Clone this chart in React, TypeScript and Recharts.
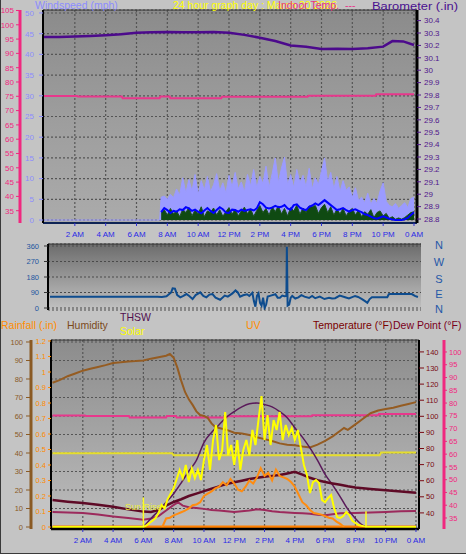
import React from "react";
import {
  ComposedChart,
  Line,
  Area,
  XAxis,
  YAxis,
  CartesianGrid,
  ReferenceLine,
  ReferenceDot,
} from "recharts";

const FONT = "'Liberation Sans', Arial, sans-serif";

// ---------- ticks & labels ----------
const hourTicks = [2, 4, 6, 8, 10, 12, 14, 16, 18, 20, 22, 24];
const hourLabels = ["2 AM", "4 AM", "6 AM", "8 AM", "10 AM", "12 PM", "2 PM", "4 PM", "6 PM", "8 PM", "10 PM", "0 AM"];
const windTicks = [0, 5, 10, 15, 20, 25, 30, 35, 40, 45, 50];
const indoorTicksTop = [35, 40, 45, 50, 55, 60, 65, 70, 75, 80, 85, 90, 95, 100, 105];
const baroTicks = [28.8, 28.9, 29, 29.1, 29.2, 29.3, 29.4, 29.5, 29.6, 29.7, 29.8, 29.9, 30, 30.1, 30.2, 30.3, 30.4];
const dirTicks = [0, 90, 180, 270, 360];
const dirLetters = ["N", "W", "S", "E", "N"];
const humTicks = [0, 10, 20, 30, 40, 50, 60, 70, 80, 90, 100];
const rainTicks = [0, 0.1, 0.2, 0.3, 0.4, 0.5, 0.6, 0.7, 0.8, 0.9, 1, 1.1, 1.2];
const tempTicks = [40, 50, 60, 70, 80, 90, 100, 110, 120, 130, 140];
const dewTicks = [35, 40, 45, 50, 55, 60, 65, 70, 75, 80, 85, 90, 95, 100];

// ---------- top panel: wind (mph), sampled every 0.2 h from 7.6 h ----------
const windStart = 7.6;
const windStep = 0.2;
const windGust = [
  5.5, 5.8, 5.0, 6.2, 5.4, 7.5, 6.0, 10.2, 6.5, 9.8, 7.0, 11.0,
  6.2, 9.5, 7.2, 10.5, 6.8, 8.5, 11.2, 7.0, 9.0, 6.5,
  10.8, 8.0, 11.5, 7.5, 9.2, 6.8, 11.0, 8.2, 12.2, 7.8,
  10.5, 8.8, 13.0, 7.8, 11.2, 15.0, 9.0, 12.5, 15.2, 8.5,
  11.0, 7.8, 12.2, 9.0, 10.8, 8.0, 12.5, 7.5, 10.2, 8.5,
  11.8, 15.0, 9.2, 11.5, 7.5, 10.5, 6.8, 9.5, 7.2, 8.0,
  5.5, 7.8, 4.8, 5.5, 4.2, 6.5, 3.8, 5.2, 4.0, 7.0,
  9.0, 4.5, 3.5, 3.2, 4.0, 2.8, 3.5, 4.2, 3.0, 5.2,
  5.5,
];
const windSpeed = [
  2.0, 2.5, 1.2, 2.8, 1.5, 2.2, 0.8, 2.6, 1.8, 3.0, 1.0, 2.4,
  1.5, 3.2, 0.8, 2.2, 1.8, 2.9, 1.2, 2.5, 0.9, 2.0,
  3.0, 1.4, 2.6, 1.0, 2.2, 3.1, 1.5, 2.7, 0.9, 2.3,
  3.5, 1.8, 2.8, 1.2, 3.2, 2.0, 3.4, 1.5, 2.8, 1.0,
  3.0, 2.2, 3.6, 1.4, 2.9, 1.8, 3.4, 3.2, 3.5, 1.6,
  3.0, 3.8, 1.8, 3.2, 1.2, 2.6, 1.5, 2.8, 1.0, 2.2,
  2.8, 1.2, 2.4, 0.8, 2.0, 1.4, 2.5, 0.6, 1.8, 2.2,
  1.0, 1.6, 0.4, 0.8, 0.2, 0.5, 0.2, 0.6, 1.2, 1.8,
  2.0,
];
const windAvg = [
  1.9, 2.9, 2.4, 1.7, 2.2, 2.0, 2.6, 2.4, 3.1, 2.8, 2.2, 2.5,
  2.0, 1.6, 2.3, 2.9, 2.2, 1.7, 2.4, 3.1, 2.6, 1.8,
  1.7, 2.5, 2.4, 2.0, 2.5, 2.2, 2.4, 2.6, 2.3, 2.8,
  4.3, 3.8, 3.0, 2.8, 3.0, 3.4, 3.1, 3.2, 3.6, 2.8,
  2.5, 3.6, 3.8, 3.0, 2.6, 2.4, 3.2, 3.5, 4.0, 3.6,
  4.2, 4.8, 4.2, 3.6, 3.0, 2.4, 2.6, 2.9, 2.4, 2.0,
  2.4, 2.6, 2.2, 1.9, 1.4, 1.2, 0.8, 0.5, 0.3, 0.6,
  0.9, 0.6, 0.3, 0.1, 0.0, 0.0, 0.0, 0.2, 0.5, 1.2,
  1.9,
];

// barometer (in)
const baroHours = [0, 1, 2, 3, 4, 5, 6, 7, 8, 9, 10, 11, 12, 13, 14, 15, 16, 17, 18, 19, 20, 21, 22, 22.6, 23.3, 24];
const baroValues = [30.268, 30.268, 30.272, 30.276, 30.282, 30.29, 30.302, 30.306, 30.308, 30.306, 30.306, 30.308, 30.302, 30.285, 30.262, 30.235, 30.2, 30.19, 30.172, 30.174, 30.172, 30.178, 30.19, 30.235, 30.232, 30.203];

// indoor temperature (°F)
const indoorHours = [0, 2.15, 2.2, 5.05, 5.1, 7.5, 7.55, 8.15, 8.2, 11.5, 11.55, 17.1, 17.15, 21.5, 21.55, 24];
const indoorValues = [75.1, 75.1, 74.9, 74.9, 74.3, 74.3, 74.9, 74.9, 74.3, 74.3, 74.8, 74.8, 75.2, 75.2, 75.7, 75.7];

// ---------- middle panel: wind direction (deg) ----------
const windDirHours = [0, 7.0, 7.3, 7.6, 7.9, 8.0, 8.15, 8.3, 8.5, 8.7, 8.9, 9.1, 9.3, 9.5, 9.8, 10.0, 10.2, 10.4, 10.6, 10.8, 11.1, 11.4, 11.6, 11.9, 12.1, 12.25, 12.4, 12.6, 12.85, 13.0, 13.2, 13.3, 13.4, 13.5, 13.6, 13.7, 13.8, 13.9, 14.0, 14.1, 14.2, 14.4, 14.7, 14.85, 15.0, 15.15, 15.3, 15.42, 15.45, 15.5, 15.6, 15.7, 15.8, 16.0, 16.2, 16.4, 16.6, 16.9, 17.1, 17.3, 17.6, 17.9, 18.2, 18.4, 18.6, 18.9, 19.2, 19.5, 19.9, 20.1, 20.35, 20.55, 20.7, 20.85, 21.0, 21.5, 22.0, 22.1, 22.2, 23.6, 23.8, 24.0];
const windDirValues = [66, 66, 64, 68, 90, 114, 112, 75, 62, 70, 81, 68, 52, 75, 91, 70, 62, 78, 81, 60, 48, 72, 66, 85, 102, 90, 66, 74, 80, 70, 88, 40, 8, 70, 85, 30, 14, 60, 0, 20, 66, 72, 80, 60, 60, 72, 68, 70, 356, 14, 20, 60, 70, 55, 62, 75, 66, 58, 70, 57, 66, 52, 60, 55, 57, 72, 64, 55, 70, 64, 52, 40, 30, 52, 63, 63, 63, 80, 81, 81, 70, 64];

// ---------- bottom panel ----------
const humHours = [0, 0.5, 1, 1.5, 2, 2.5, 3, 3.5, 4, 4.5, 5, 5.5, 6, 6.5, 7, 7.5, 7.75, 8.0, 8.25, 8.5, 8.75, 9.0, 9.25, 9.5, 9.75, 10.0, 10.25, 10.5, 10.75, 11.0, 11.5, 12, 12.5, 13, 13.5, 14, 14.5, 15, 15.5, 16, 16.5, 17, 17.5, 18, 18.5, 19, 19.25, 19.5, 20, 20.5, 21, 21.5, 22, 22.5, 23, 23.5, 24];
const humValues = [78, 79.5, 81.5, 83, 84.5, 85.5, 86.5, 87.5, 88.6, 89, 89.5, 89.7, 90, 91, 91.8, 92.6, 93.5, 91.5, 86, 79, 73, 69, 66, 62.5, 60.5, 60, 59, 56, 54, 53.5, 52.5, 51, 50.5, 49.7, 48.5, 47.5, 46.5, 45.2, 44.5, 44.2, 43.5, 43, 44.5, 46.5, 49, 52, 53.5, 52.5, 55.5, 58.5, 61.5, 63, 63.8, 64.5, 65.5, 66.5, 67.5];

const indoorHumHours = [0, 7.9, 8.0, 21.6, 21.7, 24];
const indoorHumValues = [39.8, 39.8, 38.8, 38.8, 40.3, 40.3];

const tempHours = [0, 1, 2, 3, 4, 5, 6, 6.5, 7, 7.5, 8, 8.5, 9, 9.5, 10, 10.5, 11, 11.5, 12, 12.5, 13, 13.5, 14, 14.5, 15, 15.5, 16, 16.5, 17, 17.5, 18, 18.5, 19, 19.5, 20, 21, 22, 23, 24];
const tempValues = [48.0, 47.0, 46.2, 45.0, 43.8, 42.2, 40.8, 40.6, 41.8, 44.5, 46.8, 48.5, 50.5, 52.0, 53.5, 55.0, 56.5, 58.0, 59.0, 60.0, 61.0, 61.8, 62.5, 63.0, 63.5, 64.5, 65.5, 63.8, 61.8, 60.3, 59.2, 58.3, 57.5, 56.5, 55.8, 54.8, 54.0, 53.3, 52.5];

const dewHours = [0, 1, 2, 3, 4, 5, 6, 6.5, 7, 7.5, 8, 8.3, 8.6, 9, 9.5, 10, 10.5, 11, 11.5, 12, 12.5, 13, 13.5, 14, 14.5, 15, 15.5, 16, 16.5, 17, 17.5, 18, 18.5, 19, 20, 21, 22, 23, 24];
const dewValues = [40.6, 40.3, 40.0, 39.0, 37.8, 36.8, 35.8, 36.5, 38.0, 41.5, 45.0, 46.5, 44.5, 43.5, 43.0, 42.5, 41.8, 41.5, 41.0, 40.6, 41.0, 41.5, 42.2, 41.8, 41.0, 40.5, 40.2, 40.0, 39.8, 39.5, 38.8, 38.5, 39.2, 39.8, 40.0, 40.3, 40.6, 41.0, 41.2];

// solar radiation (W/m²), every 0.2 h from 6.0 h
const solarStart = 6.0;
const solarStep = 0.2;
const solarValues = [
  0, 10, 26, 40, 58, 90, 142, 120, 180, 215,
  250, 310, 368, 316, 400, 290, 380, 316, 368, 303,
  432, 529, 368, 561, 658, 432, 497, 742, 464, 529,
  400, 561, 368, 497, 561, 464, 626, 529, 690, 845,
  561, 722, 529, 690, 626, 742, 561, 658, 593, 639,
  561, 626, 510, 400, 335, 219, 290, 303, 284, 174,
  161, 187, 206, 120, 64, 58, 71, 97, 77, 40,
  26, 13, 8, 4, 0,
];

const thswHours = [6.0, 6.5, 7.0, 7.5, 8.0, 8.5, 9.0, 9.5, 10.0, 10.5, 11.0, 11.5, 12.0, 12.5, 13.0, 13.5, 14.0, 14.5, 15.0, 15.5, 16.0, 16.5, 17.0, 17.5, 18.0, 18.5, 19.0, 19.5, 20.0, 20.5, 20.8];
const thswValues = [0, 55, 105, 160, 215, 285, 360, 430, 545, 610, 660, 710, 745, 775, 795, 800, 790, 775, 745, 705, 640, 580, 510, 430, 340, 270, 195, 115, 55, 10, 0];

// UV index, every 0.25 h from 7.25 h
const uvStart = 7.25;
const uvStep = 0.25;
const uvValues = [
  0, 0.55, 0.6, 0.75, 0.85, 0.95, 1.05, 1.2, 1.4, 1.45, 1.6,
  2.0, 2.15, 2.3, 2.5, 2.6, 2.9, 2.7, 3.1, 2.8, 2.4,
  2.3, 2.6, 3.0, 2.8, 3.2, 3.8, 3.3, 3.5, 3.0, 3.7,
  3.3, 3.2, 3.1, 2.9, 2.6, 2.1, 1.6, 1.4, 1.1, 0.9,
  0.85, 0.8, 0.7, 0.6, 0.55, 0.35, 0.2, 0.0,
];

const rainHours = [0, 24];
const rainValues = [0, 0];

const sunTimes = [6.0, 20.7];

// ---------- helpers ----------
const rows = (hours: number[], values: number[]) => hours.map((t, i) => ({ t, v: values[i] }));
const stepRows = (start: number, step: number, values: number[]) =>
  values.map((v, i) => ({ t: Math.round((start + i * step) * 1000) / 1000, v }));

const windRows: any[] = [
  { t: 0, gust: 0 },
  { t: windStart - 0.1, gust: 0 },
  ...windGust.map((g, i) => ({
    t: Math.round((windStart + i * windStep) * 1000) / 1000,
    gust: g,
    speed: windSpeed[i],
    avg: windAvg[i],
  })),
];
const baroRows = rows(baroHours, baroValues);
const indoorRows = rows(indoorHours, indoorValues);
const dirRows = rows(windDirHours, windDirValues);
const humRows = rows(humHours, humValues);
const indoorHumRows = rows(indoorHumHours, indoorHumValues);
const tempRows = rows(tempHours, tempValues);
const dewRows = rows(dewHours, dewValues);
const solarRows = [{ t: 0, v: 0 }, ...stepRows(solarStart, solarStep, solarValues), { t: 24, v: 0 }];
const thswRows = rows(thswHours, thswValues);
const uvRows = stepRows(uvStart, uvStep, uvValues);
const rainRows = rows(rainHours, rainValues);

const fmtHour = (v: number) => {
  const i = hourTicks.indexOf(v);
  return i >= 0 ? hourLabels[i] : "";
};
const fmtNum = (v: number) => String(Math.round(v * 10) / 10);

const tickStyle = (fill: string, size = 8) => ({ fill, fontSize: size, fontFamily: FONT });
const noAnim = { isAnimationActive: false, dot: false, activeDot: false } as any;

// axis ids: alphabetical order decides stacking (first = nearest the plot)
const WS = "a_ws";
const IT = "b_indoor";
const BARO = "c_baro";
const RAIN = "a_rain";
const HUM = "b_hum";
const TEMP = "a_temp";
const DEW = "b_dew";
const SOLAR = "z_solar";
const UV = "z_uv";
const DIR = "dir";

export default function App() {
  return (
    <div
      style={{
        position: "absolute",
        left: 0,
        top: 0,
        width: 466,
        height: 554,
        background: "#c4c4c4",
        overflow: "hidden",
        fontFamily: FONT,
      }}
    >
      {/* ---------------- TOP PANEL ---------------- */}
      <div style={{ position: "absolute", left: 0, top: 0 }}>
        <ComposedChart width={466} height={250} data={windRows} margin={{ top: 10, right: 0, bottom: 0, left: 0 }}>
          <defs>
            <linearGradient id="bgTop" x1="0" y1="0" x2="0" y2="1">
              <stop offset="0" stopColor="#8b8b8b" />
              <stop offset="0.5" stopColor="#9d9d9d" />
              <stop offset="1" stopColor="#ababab" />
            </linearGradient>
          </defs>
          <CartesianGrid yAxisId={WS} fill="url(#bgTop)" stroke="#555" strokeDasharray="2 2" strokeWidth={1.2} />
          <XAxis
            dataKey="t"
            type="number"
            domain={[-0.065, 24.195]}
            allowDataOverflow
            ticks={hourTicks}
            interval={0}
            tickFormatter={fmtHour}
            height={27}
            tickSize={3}
            tickMargin={5}
            tick={tickStyle("#2a2ae6")}
            axisLine={{ stroke: "#0f2456", strokeWidth: 2 }}
            tickLine={{ stroke: "#3030d0" }}
          />
          <YAxis
            yAxisId={WS}
            orientation="left"
            width={23}
            domain={[-0.72, 50.72]}
            allowDataOverflow
            ticks={windTicks}
            interval={0}
            tickSize={4}
            tickMargin={5}
            tick={tickStyle("#8c8cff")}
            axisLine={{ stroke: "#000", strokeWidth: 2 }}
            tickLine={{ stroke: "#8c8cff" }}
          />
          <YAxis
            yAxisId={IT}
            orientation="left"
            width={20}
            domain={[30.7, 105.17]}
            allowDataOverflow
            ticks={indoorTicksTop}
            interval={0}
            tickSize={4}
            tickMargin={2}
            tick={tickStyle("#f0287f")}
            axisLine={{ stroke: "#f0287f", strokeWidth: 3 }}
            tickLine={{ stroke: "#f0287f" }}
          />
          <YAxis
            yAxisId={BARO}
            orientation="right"
            width={49}
            domain={[28.768, 30.4855]}
            allowDataOverflow
            ticks={baroTicks}
            interval={0}
            tickFormatter={fmtNum}
            tickSize={4}
            tickMargin={3}
            tick={tickStyle("#50168c")}
            axisLine={{ stroke: "#000", strokeWidth: 3 }}
            tickLine={{ stroke: "#50168c" }}
          />
          <ReferenceLine yAxisId={WS} y={50.72} stroke="#333" strokeWidth={1} />
          <Area yAxisId={WS} dataKey="gust" type="linear" stroke="#9b9bff" strokeWidth={1} fill="#9b9bff" fillOpacity={1} {...noAnim} />
          <Area yAxisId={WS} dataKey="speed" type="linear" stroke="#1a521a" strokeWidth={1} fill="#0f4a12" fillOpacity={1} {...noAnim} />
          <Line yAxisId={WS} dataKey="avg" type="linear" stroke="#0000ff" strokeWidth={2} {...noAnim} />
          <Line yAxisId={BARO} data={baroRows} dataKey="v" type="linear" stroke="#4c0a8c" strokeWidth={2.5} {...noAnim} />
          <Line yAxisId={IT} data={indoorRows} dataKey="v" type="linear" stroke="#e8378c" strokeWidth={2} {...noAnim} />
        </ComposedChart>
      </div>

      {/* ---------------- WIND DIRECTION PANEL ---------------- */}
      <div style={{ position: "absolute", left: 0, top: 238 }}>
        <ComposedChart width={466} height={80} data={dirRows} margin={{ top: 6, right: 45, bottom: 8, left: 0 }}>
          <defs>
            <linearGradient id="bgDir" x1="0" y1="0" x2="0" y2="1">
              <stop offset="0" stopColor="#6c6c6c" />
              <stop offset="1" stopColor="#c2c2c2" />
            </linearGradient>
          </defs>
          <CartesianGrid yAxisId={DIR} vertical={false} fill="url(#bgDir)" stroke="#4a4a4a" strokeDasharray="2 2" strokeWidth={1.2} />
          <XAxis dataKey="t" type="number" domain={[-0.13, 24.2]} allowDataOverflow hide height={0} />
          <YAxis
            yAxisId={DIR}
            orientation="left"
            width={48}
            domain={[-11.6, 371.6]}
            allowDataOverflow
            ticks={dirTicks}
            interval={0}
            tickSize={4}
            tickMargin={5}
            tick={tickStyle("#2356a0", 7.5)}
            axisLine={{ stroke: "#000", strokeWidth: 2 }}
            tickLine={{ stroke: "#333" }}
          />
          <ReferenceLine yAxisId={DIR} y={371.6} stroke="#333" strokeWidth={1} />
          <Line yAxisId={DIR} dataKey="v" type="linear" stroke="#0e4c8e" strokeWidth={2} {...noAnim} />
        </ComposedChart>
      </div>

      {/* ---------------- BOTTOM PANEL ---------------- */}
      <div style={{ position: "absolute", left: 0, top: 332 }}>
        <ComposedChart width={466} height={222} margin={{ top: 8, right: 0, bottom: 0, left: 0 }}>
          <defs>
            <linearGradient id="bgBot" x1="0" y1="0" x2="0" y2="1">
              <stop offset="0" stopColor="#8c8c8c" />
              <stop offset="1" stopColor="#bdbdbd" />
            </linearGradient>
          </defs>
          <CartesianGrid yAxisId={HUM} fill="url(#bgBot)" stroke="#555" strokeDasharray="2 2" strokeWidth={1.2} />
          <XAxis
            dataKey="t"
            type="number"
            domain={[-0.1, 24.2]}
            allowDataOverflow
            ticks={hourTicks}
            interval={0}
            tickFormatter={fmtHour}
            height={25}
            tickSize={3}
            tickMargin={5}
            tick={tickStyle("#2a2ae6")}
            axisLine={{ stroke: "#000", strokeWidth: 2.5 }}
            tickLine={{ stroke: "#3030d0" }}
          />
          <YAxis
            yAxisId={RAIN}
            orientation="left"
            width={20}
            domain={[-0.0129, 1.2065]}
            allowDataOverflow
            ticks={rainTicks}
            interval={0}
            tickFormatter={fmtNum}
            tickSize={3}
            tickMargin={2}
            tick={tickStyle("#ff8a00", 7.5)}
            axisLine={{ stroke: "#000", strokeWidth: 2 }}
            tickLine={{ stroke: "#ff8a00" }}
          />
          <YAxis
            yAxisId={HUM}
            orientation="left"
            width={31}
            domain={[-1.08, 101.08]}
            allowDataOverflow
            ticks={humTicks}
            interval={0}
            tickSize={5}
            tickMargin={3}
            tick={tickStyle("#8a5a24", 7.5)}
            axisLine={{ stroke: "#8a5a24", strokeWidth: 3 }}
            tickLine={{ stroke: "#8a5a24" }}
          />
          <YAxis
            yAxisId={TEMP}
            orientation="right"
            width={25}
            domain={[30, 147.4]}
            allowDataOverflow
            ticks={tempTicks}
            interval={0}
            tickSize={5}
            tickMargin={2}
            tick={tickStyle("#7a0a14", 7.5)}
            axisLine={{ stroke: "#000", strokeWidth: 2 }}
            tickLine={{ stroke: "#7a0a14" }}
          />
          <YAxis
            yAxisId={DEW}
            orientation="right"
            width={22}
            domain={[30.69, 104.69]}
            allowDataOverflow
            ticks={dewTicks}
            interval={0}
            tickSize={3}
            tickMargin={2}
            tick={tickStyle("#f0287f", 7.5)}
            axisLine={{ stroke: "#f0287f", strokeWidth: 3 }}
            tickLine={{ stroke: "#f0287f" }}
          />
          <YAxis yAxisId={SOLAR} hide domain={[-12.9, 1206.5]} allowDataOverflow />
          <YAxis yAxisId={UV} hide domain={[-0.129, 12.065]} allowDataOverflow />
          <ReferenceLine yAxisId={HUM} y={101.08} stroke="#333" strokeWidth={1} />

          <Line yAxisId={RAIN} data={rainRows} dataKey="v" type="linear" stroke="#ff8000" strokeWidth={3} {...noAnim} />
          <Line yAxisId={HUM} data={indoorHumRows} dataKey="v" type="linear" stroke="#e6de2c" strokeWidth={2} {...noAnim} />
          <Line yAxisId={DEW} data={indoorRows} dataKey="v" type="linear" stroke="#e8378c" strokeWidth={2} {...noAnim} />
          <Line yAxisId={TEMP} data={dewRows} dataKey="v" type="linear" stroke="#9c2a5c" strokeWidth={2} {...noAnim} />
          <Line yAxisId={HUM} data={humRows} dataKey="v" type="linear" stroke="#955c22" strokeWidth={2} {...noAnim} />
          <Line yAxisId={SOLAR} data={thswRows} dataKey="v" type="monotone" stroke="#5a1a5a" strokeWidth={1.5} {...noAnim} />
          <Line yAxisId={TEMP} data={tempRows} dataKey="v" type="linear" stroke="#5e0a26" strokeWidth={2.5} {...noAnim} />
          <Line yAxisId={SOLAR} data={solarRows} dataKey="v" type="linear" stroke="#ffff00" strokeWidth={2} {...noAnim} />
          <Line yAxisId={UV} data={uvRows} dataKey="v" type="linear" stroke="#ff8c10" strokeWidth={2} {...noAnim} />

          <ReferenceLine
            yAxisId={HUM}
            segment={[{ x: sunTimes[0], y: -1 }, { x: sunTimes[0], y: 16 }]}
            stroke="#ffff20"
            strokeWidth={1.5}
          />
          <ReferenceLine
            yAxisId={HUM}
            segment={[{ x: sunTimes[1], y: -1 }, { x: sunTimes[1], y: 8.5 }]}
            stroke="#ffff20"
            strokeWidth={1.5}
          />
          <ReferenceDot
            yAxisId={HUM}
            x={sunTimes[0]}
            y={11}
            r={0}
            fill="none"
            stroke="none"
            label={{ value: "Sun Rise", fill: "#ecec40", fontSize: 9, fontFamily: FONT, position: "center" }}
          />
        </ComposedChart>
      </div>

      {/* ---------------- TITLES ---------------- */}
      <svg
        width={466}
        height={554}
        style={{ position: "absolute", left: 0, top: 0, pointerEvents: "none" }}
        fontFamily={FONT}
        fontSize={10.5}
      >
        <text x={35} y={9} fill="#8c8cff">Windspeed (mph)</text>
        <text x={173} y={9} fill="#ffff00">24 hour graph day : March 20 2026</text>
        <text x={278} y={9} fill="#e8338a">Indoor Temp.</text>
        <text x={345} y={9} fill="#e8338a">---</text>
        <text x={372} y={9.5} fill="#4a1090" textLength={86} lengthAdjust="spacingAndGlyphs">Barometer (.in)</text>

        {dirLetters.map((l, i) => (
          <text key={i} x={439} y={[249, 266, 283, 298, 313][i]} fill="#2458a8" fontSize={11} textAnchor="middle">
            {l}
          </text>
        ))}

        <text x={1} y={329} fill="#ff8c00">Rainfall (.in)</text>
        <text x={67} y={329} fill="#7b4a1a">Humidity</text>
        <text x={120} y={321} fill="#501050">THSW</text>
        <text x={120} y={335} fill="#ffff00">Solar</text>
        <text x={246} y={329} fill="#ff8c00">UV</text>
        <text x={313} y={329} fill="#7a0000">Temperature (°F)</text>
        <text x={393} y={329} fill="#7a0020">Dew Point (°F)</text>

        <line x1={0.5} y1={0} x2={0.5} y2={554} stroke="#3a3a3a" />
        <line x1={0} y1={553.5} x2={466} y2={553.5} stroke="#3a3a3a" />
      </svg>
    </div>
  );
}
